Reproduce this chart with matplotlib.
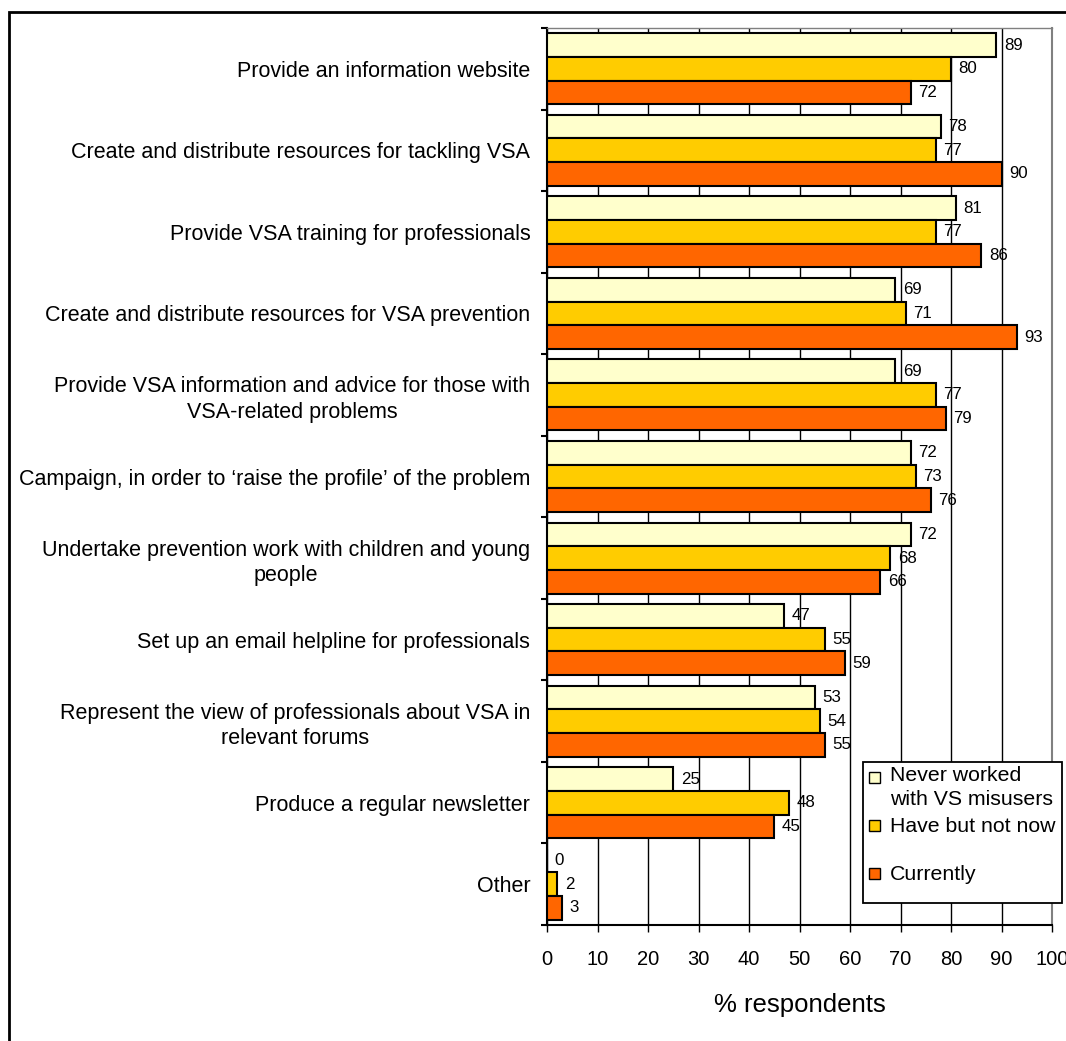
import matplotlib
matplotlib.use('Agg')
import matplotlib.pyplot as plt
from matplotlib.patches import Rectangle
import numpy as np

plt.rcParams['font.family'] = ['Liberation Sans', 'DejaVu Sans']

# survey answers, % respondents
categories = [
    'Provide an information website',
    'Create and distribute resources for tackling VSA',
    'Provide VSA training for professionals',
    'Create and distribute resources for VSA prevention',
    'Provide VSA information and advice for those with\nVSA-related problems',
    'Campaign, in order to \u2018raise the profile\u2019 of the problem',
    'Undertake prevention work with children and young\npeople',
    'Set up an email helpline for professionals',
    'Represent the view of professionals about VSA in\nrelevant forums',
    'Produce a regular newsletter',
    'Other',
]
never_worked = [89, 78, 81, 69, 69, 72, 72, 47, 53, 25, 0]
have_not_now = [80, 77, 77, 71, 77, 73, 68, 55, 54, 48, 2]
currently = [72, 90, 86, 93, 79, 76, 66, 59, 55, 45, 3]
series_names = ['Never worked\nwith VS misusers', 'Have but not now', 'Currently']
colors = ['#FFFFCC', '#FFCC00', '#FF6600']

W, H = 1066, 1041


def fx(px):
    return px / W


def fy(py):
    return 1 - py / H


fig = plt.figure(figsize=(W / 100, H / 100), dpi=100)
ax = fig.add_axes([fx(547), fy(925), fx(1052 - 547), (925 - 28) / H])

y = np.arange(len(categories))
bar_h = 0.29
for k, vals in enumerate([never_worked, have_not_now, currently]):
    pos = y + (k - 1) * bar_h
    ax.barh(pos, vals, height=bar_h, color=colors[k], edgecolor='black',
            linewidth=1.5, zorder=3)
    for yy, v in zip(pos, vals):
        ax.annotate(str(v), xy=(v, yy), xytext=(5.5, 0), textcoords='offset points',
                    va='center', ha='left', fontsize=12.2, zorder=4)

ax.set_xlim(0, 100)
ax.set_ylim(len(categories) - 0.5, -0.5)

# x axis
ax.set_xticks(range(0, 101, 10))
ax.tick_params(axis='x', direction='out', length=5, width=1, labelsize=14.5, pad=13)
ax.xaxis.grid(True, color='black', linewidth=1)
ax.set_axisbelow(True)
ax.set_xlabel('% respondents', fontsize=18.5, labelpad=17)

# y axis: labels at centres, tick marks at the band edges
ax.set_yticks(y)
ax.set_yticklabels(categories, fontsize=15.5, linespacing=1.3)
for lbl in ax.get_yticklabels():
    lbl.set_multialignment('center')
ax.set_yticks(np.arange(-0.5, len(categories), 1), minor=True)
ax.tick_params(axis='y', which='major', length=0, pad=12)
ax.tick_params(axis='y', which='minor', direction='out', length=4.5, width=1.5)

ax.spines['left'].set_linewidth(1.5)
ax.spines['bottom'].set_linewidth(1.5)
ax.spines['top'].set_color('#808080')
ax.spines['top'].set_linewidth(1)
ax.spines['right'].set_color('#808080')
ax.spines['right'].set_linewidth(1.5)

# legend drawn by hand (first entry sits on its first line)
fig.add_artist(Rectangle((fx(863), fy(903)), fx(1062 - 863), (903 - 762) / H,
                         transform=fig.transFigure, facecolor='white',
                         edgecolor='black', linewidth=1.3, zorder=5))
marker_y = [777, 825, 873]
for k, name in enumerate(series_names):
    fig.add_artist(Rectangle((fx(869), fy(marker_y[k] + 5.5)), fx(11), 11 / H,
                             transform=fig.transFigure, facecolor=colors[k],
                             edgecolor='black', linewidth=1, zorder=6))
    if '\n' in name:
        fig.text(fx(890), fy(766), name, va='top', ha='left', fontsize=15.3,
                 linespacing=1.35, zorder=7)
    else:
        fig.text(fx(890), fy(marker_y[k] + 1), name, va='center', ha='left',
                 fontsize=15.3, zorder=7)

# outer frame of the original figure (cropped on the right and bottom)
fig.add_artist(Rectangle((fx(9), -0.05), 1.2, fy(11.5) + 0.05,
                         transform=fig.transFigure, fill=False,
                         edgecolor='black', linewidth=2, zorder=8))

plt.savefig('out.png', dpi=100)
